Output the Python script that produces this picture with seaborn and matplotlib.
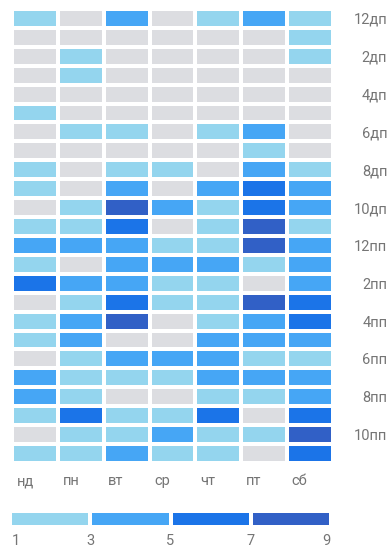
import matplotlib
matplotlib.use("Agg")
import matplotlib.pyplot as plt
from matplotlib.colors import ListedColormap, BoundaryNorm
import seaborn as sns
import pandas as pd

# Activity per hour (rows: 0..23 h) for each weekday
days = ["нд", "пн", "вт", "ср", "чт", "пт", "сб"]
hour_labels = ["12дп", "2дп", "4дп", "6дп", "8дп", "10дп",
               "12пп", "2пп", "4пп", "6пп", "8пп", "10пп"]

sun = [2, 0, 0, 0, 0, 2, 0, 0, 2, 2, 0, 2, 4, 2, 6, 0, 2, 2, 0, 4, 4, 2, 0, 2]
mon = [0, 0, 2, 2, 0, 0, 2, 0, 0, 0, 2, 2, 4, 0, 4, 2, 4, 4, 2, 2, 2, 6, 2, 2]
tue = [4, 0, 0, 0, 0, 0, 2, 0, 2, 4, 8, 6, 4, 4, 4, 6, 8, 0, 4, 2, 0, 2, 2, 4]
wed = [0, 0, 0, 0, 0, 0, 0, 0, 2, 0, 4, 0, 2, 4, 2, 2, 0, 0, 4, 2, 0, 2, 4, 2]
thu = [2, 0, 0, 0, 0, 0, 2, 0, 0, 4, 2, 2, 2, 4, 2, 2, 2, 4, 4, 4, 2, 6, 2, 2]
fri = [4, 0, 0, 0, 0, 0, 4, 2, 4, 6, 6, 8, 8, 2, 0, 8, 4, 4, 2, 4, 2, 0, 2, 0]
sat = [2, 2, 2, 0, 0, 0, 0, 0, 2, 4, 4, 2, 4, 4, 4, 6, 6, 4, 2, 4, 4, 6, 8, 6]

legend_values = [2, 4, 6, 8]
legend_ticks = ["1", "3", "5", "7", "9"]

df = pd.DataFrame(dict(zip(days, [sun, mon, tue, wed, thu, fri, sat])))

colors = ["#dcdde1", "#94d5ee", "#46a6f5", "#1b74e8", "#3160c6"]
cmap = ListedColormap(colors)
norm = BoundaryNorm([-0.5, 1, 3, 5, 7, 9], cmap.N)
text_color = "#757575"

sns.set_theme(style="white")
plt.rcParams["font.family"] = ["Roboto", "DejaVu Sans"]

fig = plt.figure(figsize=(3.89, 5.50), dpi=100)
W, H = 389, 550

# main heatmap
ax = fig.add_axes([12 / W, 1 - 463 / H, 321 / W, 454 / H])
sns.heatmap(df, cmap=cmap, norm=norm, linewidths=2.8, linecolor="white",
            cbar=False, ax=ax)
ax.set_xticks([i + 0.1 for i in range(len(days))])
ax.set_xticklabels(days, ha="left", rotation=0, color=text_color, fontsize=10.5)
ax.yaxis.tick_right()
ax.set_yticks([i + 0.5 for i in range(0, 24, 2)])
ax.set_yticklabels(hour_labels, rotation=0, ha="right", color=text_color,
                   fontsize=10.5)
ax.tick_params(axis="y", length=0, pad=39)
ax.tick_params(axis="x", length=0, pad=8)
ax.set_xlabel("")
ax.set_ylabel("")

# colour legend bar
lax = fig.add_axes([10 / W, 1 - 527 / H, 321 / W, 16 / H])
sns.heatmap(pd.DataFrame([legend_values]), cmap=cmap, norm=norm,
            linewidths=2.8, linecolor="white", cbar=False, ax=lax)
lax.set_yticks([])
lax.set_xticks([0.02] + [1, 2, 3] + [3.99])
lax.set_xticklabels(legend_ticks, rotation=0, color=text_color, fontsize=10.5)
labels = lax.get_xticklabels()
labels[0].set_ha("left")
labels[-1].set_ha("right")
lax.tick_params(axis="x", length=0, pad=5)
lax.set_xlabel("")
lax.set_ylabel("")

fig.savefig("out.png", dpi=100)
